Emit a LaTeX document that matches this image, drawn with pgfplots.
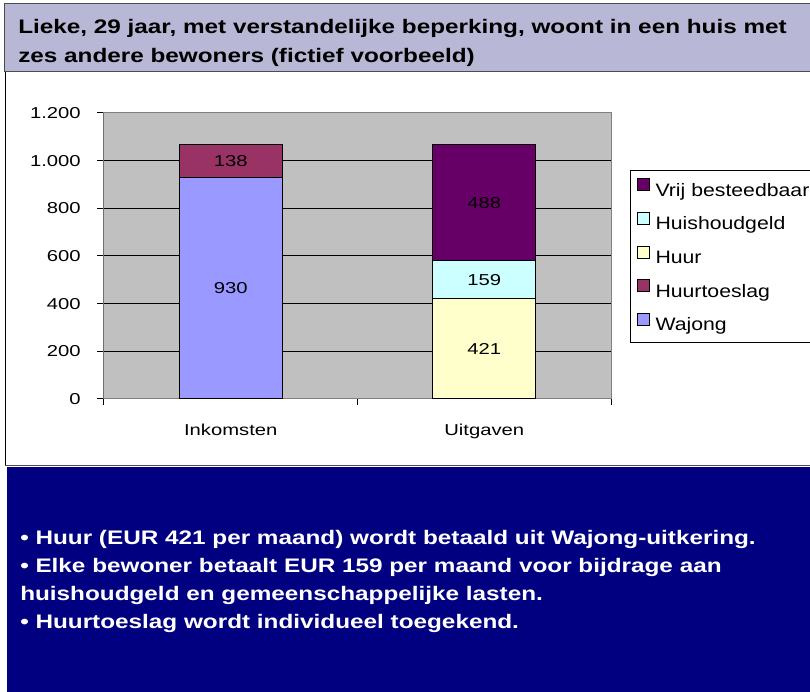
\documentclass[border=0pt]{standalone}
\usepackage{pgfplots}
\pgfplotsset{compat=1.18}
\usepackage{fontspec}
\setmainfont{Liberation Sans}
\newfontfamily\chartfont[FakeStretch=1.28]{Liberation Sans}
\newfontfamily\legfont[FakeStretch=1.18]{Liberation Sans}
\newfontfamily\titlefont[FakeStretch=1.24]{Liberation Sans}
\definecolor{band}{RGB}{184,184,214}
\definecolor{navy}{RGB}{0,0,128}
\definecolor{plotgray}{RGB}{192,192,192}
\definecolor{cWaj}{RGB}{153,153,255}
\definecolor{cToe}{RGB}{153,51,102}
\definecolor{cHuur}{RGB}{255,255,204}
\definecolor{cHuis}{RGB}{204,255,255}
\definecolor{cVrij}{RGB}{102,0,102}
\pgfplotsset{sq/.style={legend image code/.code={\draw[##1,draw=black,line width=0.75pt] (0pt,0.4pt) rectangle (9pt,9.4pt);}}}
\begin{document}
\begin{tikzpicture}[x=0.75pt,y=0.75pt]
\useasboundingbox (0,0) rectangle (810,692);
\fill[white] (0,0) rectangle (810,692);
% title band
\fill[band] (4,620) rectangle (815,688);
\draw[black!70, line width=0.75pt] (815,688) -- (4,688) -- (4,620) -- (815,620);
\draw[black, line width=0.75pt] (5,620) -- (5,226);
% navy box
\fill[navy] (7,-5) rectangle (815,225);
\draw[black!70, line width=0.75pt] (5,226) -- (815,226);
% title
\begin{scope}[every node/.style={anchor=base west, inner sep=0pt, font=\titlefont\bfseries\fontsize{14.7}{18}\selectfont}]
\node at (18,658) {Lieke, 29 jaar, met verstandelijke beperking, woont in een huis met};
\node at (18,629) {zes andere bewoners (fictief voorbeeld)};
\end{scope}
\begin{scope}[every node/.style={anchor=base west, inner sep=0pt, text=white, font=\titlefont\bfseries\fontsize{14.7}{18}\selectfont}]
\node at (20,147) {• Huur (EUR 421 per maand) wordt betaald uit Wajong-uitkering.};
\node at (20,119) {• Elke bewoner betaalt EUR 159 per maand voor bijdrage aan};
\node at (20,91) {huishoudgeld en gemeenschappelijke lasten.};
\node at (20,63) {• Huurtoeslag wordt individueel toegekend.};
\end{scope}
\begin{axis}[
  at={(78pt,219.75pt)}, anchor=south west,
  scale only axis, width=380.25pt, height=214.5pt,
  xmin=-0.5, xmax=1.5, ymin=0, ymax=1200,
  axis background/.style={fill=plotgray},
  axis line style={draw=black!50, line width=0.75pt},
  ybar stacked, bar width=77.25pt,
  ytick={0,200,400,600,800,1000,1200},
  yticklabels={0,200,400,600,800,1.000,1.200},
  ymajorgrids, grid style={black, line width=0.75pt},
  xtick={0,1}, xticklabels={Inkomsten,Uitgaven},
  tick align=outside, tick pos=left,
  major tick length=5.25pt,
  y tick style={black, line width=0.75pt},
  x tick style={draw=none},
  extra x ticks={-0.5,0.5,1.5}, extra x tick labels={},
  extra x tick style={x tick style={draw=black, line width=0.75pt}, major tick length=4.5pt, grid=none},
  tick label style={font=\chartfont\fontsize{11.85}{14}\selectfont, text=black},
  yticklabel style={inner sep=0pt, xshift=-12pt},
  xticklabel style={inner sep=0pt, yshift=-13pt},
  point meta=explicit symbolic,
  nodes near coords,
  nodes near coords style={font=\chartfont\fontsize{11.85}{14}\selectfont, text=black, anchor=center},
  reverse legend,
  legend style={at={(axis description cs:1.0375,0.8007)}, anchor=north west,
    draw=black, fill=white, line width=0.75pt,
    font=\legfont\fontsize{13.5}{16}\selectfont,
    inner xsep=5pt, inner ysep=6pt, row sep=9.2pt,
    nodes={inner sep=0pt, text height=9.7pt, text depth=2.8pt},
    every even column/.style={text width=130pt},
    column sep=4pt},
  legend cell align=left,
]
\addplot[fill=cWaj, draw=black, line width=0.75pt, sq] coordinates {(0,930) [930] (1,0) []};
\addplot[fill=cToe, draw=black, line width=0.75pt, sq] coordinates {(0,138) [138] (1,0) []};
\addplot[fill=cHuur, draw=black, line width=0.75pt, sq] coordinates {(0,0) [] (1,421) [421]};
\addplot[fill=cHuis, draw=black, line width=0.75pt, sq] coordinates {(0,0) [] (1,159) [159]};
\addplot[fill=cVrij, draw=black, line width=0.75pt, sq] coordinates {(0,0) [] (1,488) [488]};
\legend{Wajong,Huurtoeslag,Huur,Huishoudgeld,Vrij besteedbaar}
\draw[black, line width=0.75pt] (axis cs:-0.5,0) -- (axis cs:-0.5,1200);
\end{axis}
\end{tikzpicture}
\end{document}
